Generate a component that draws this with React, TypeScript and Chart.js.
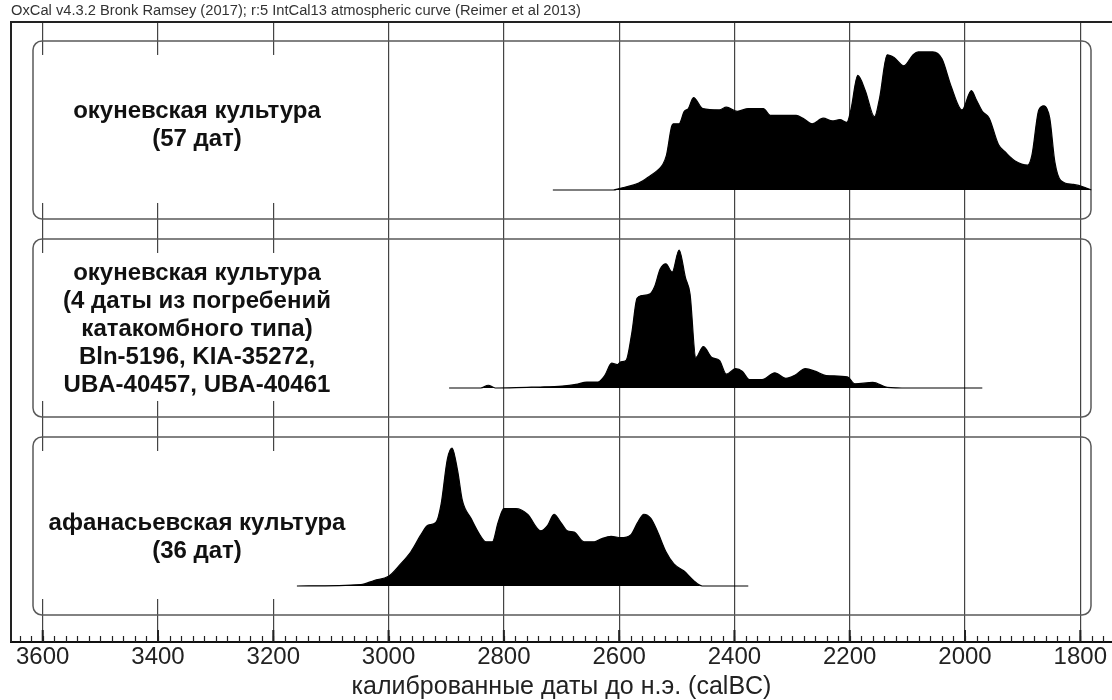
import React, { useEffect, useRef } from "react";
import { Chart, registerables } from "chart.js";

Chart.register(...registerables);

const FONT = '"Liberation Sans", Arial, Helvetica, sans-serif';

const TITLE = "OxCal v4.3.2 Bronk Ramsey (2017); r:5 IntCal13 atmospheric curve (Reimer et al 2013)";
const AXIS_TITLE = "калиброванные даты до н.э. (calBC)";
const TICK_YEARS = [3600, 3400, 3200, 3000, 2800, 2600, 2400, 2200, 2000, 1800];
const X_MIN = 1745;
const X_MAX = 3655;

const LABELS_1 = ["окуневская культура", "(57 дат)"];
const LABELS_2 = [
  "окуневская культура",
  "(4 даты из погребений",
  "катакомбного типа)",
  "Bln-5196, KIA-35272,",
  "UBA-40457, UBA-40461",
];
const LABELS_3 = ["афанасьевская культура", "(36 дат)"];

// Panel 1: окуневская культура (57 дат) — relative probability density
const YEARS_1 = [2715, 2610, 2600, 2566, 2547, 2534, 2525, 2518, 2509, 2506, 2496, 2487, 2480, 2471, 2455, 2426, 2414, 2395, 2376, 2350, 2337, 2293, 2281, 2265, 2246, 2230, 2217, 2205, 2198, 2186, 2173, 2157, 2148, 2135, 2123, 2106, 2090, 2081, 2056, 2040, 2024, 2005, 1989, 1980, 1970, 1958, 1942, 1929, 1913, 1891, 1884, 1872, 1863, 1853, 1844, 1834, 1812, 1793, 1781];
const DENS_1 = [0, 0, 0.01, 0.05, 0.1, 0.14, 0.18, 0.25, 0.46, 0.48, 0.48, 0.57, 0.59, 0.67, 0.59, 0.58, 0.6, 0.57, 0.59, 0.59, 0.54, 0.54, 0.52, 0.48, 0.52, 0.5, 0.51, 0.49, 0.58, 0.83, 0.72, 0.53, 0.67, 0.98, 0.96, 0.9, 0.98, 1.0, 1.0, 0.95, 0.75, 0.58, 0.72, 0.65, 0.57, 0.52, 0.33, 0.27, 0.21, 0.18, 0.25, 0.58, 0.61, 0.52, 0.2, 0.07, 0.04, 0.02, 0];

// Panel 2: окуневская культура (4 даты из погребений катакомбного типа)
const YEARS_2 = [2895, 2840, 2827, 2815, 2760, 2737, 2699, 2675, 2656, 2637, 2625, 2613, 2603, 2597, 2588, 2578, 2569, 2560, 2547, 2538, 2529, 2519, 2508, 2496, 2485, 2477, 2467, 2454, 2439, 2426, 2414, 2398, 2386, 2374, 2352, 2330, 2311, 2296, 2277, 2259, 2241, 2204, 2191, 2160, 2135, 2100, 1970];
const DENS_2 = [0, 0, 0.02, 0, 0.005, 0.007, 0.014, 0.026, 0.043, 0.043, 0.09, 0.18, 0.17, 0.19, 0.2, 0.4, 0.65, 0.67, 0.68, 0.74, 0.86, 0.9, 0.84, 1.0, 0.8, 0.68, 0.22, 0.3, 0.22, 0.2, 0.1, 0.14, 0.12, 0.06, 0.06, 0.11, 0.07, 0.09, 0.14, 0.12, 0.09, 0.08, 0.03, 0.04, 0.005, 0, 0];

// Panel 3: афанасьевская культура (36 дат)
const YEARS_3 = [3159, 3048, 3025, 3000, 2979, 2961, 2944, 2932, 2918, 2909, 2898, 2890, 2880, 2872, 2857, 2843, 2831, 2820, 2810, 2800, 2779, 2759, 2736, 2724, 2713, 2701, 2690, 2678, 2661, 2643, 2632, 2614, 2597, 2580, 2568, 2557, 2545, 2534, 2519, 2505, 2488, 2471, 2456, 2376];
const DENS_3 = [0, 0.01, 0.04, 0.07, 0.16, 0.25, 0.37, 0.44, 0.46, 0.59, 0.92, 1.0, 0.83, 0.62, 0.49, 0.38, 0.32, 0.32, 0.46, 0.56, 0.56, 0.52, 0.4, 0.44, 0.52, 0.46, 0.4, 0.39, 0.32, 0.32, 0.34, 0.36, 0.35, 0.37, 0.46, 0.52, 0.49, 0.4, 0.25, 0.16, 0.11, 0.04, 0, 0];

// layout (y-axis units = panel coordinate system)
const Y_MAX = 620;
const BOX_TOP0 = 601;
const PITCH = 198;
const BOX_H = 178;
const BASE_OFFSET = 149;
const DENS_SCALE = 138;
const LABEL_CENTER = [84.5, 90.5, 100];

const PANELS = [
  { years: YEARS_1, dens: DENS_1, labels: LABELS_1 },
  { years: YEARS_2, dens: DENS_2, labels: LABELS_2 },
  { years: YEARS_3, dens: DENS_3, labels: LABELS_3 },
];

const boxTop = (k: number) => BOX_TOP0 - PITCH * k;
const baseOf = (k: number) => boxTop(k) - BASE_OFFSET;

const decor = {
  id: "oxcalDecor",
  beforeDatasetsDraw(chart: any) {
    const { ctx, chartArea, scales } = chart;
    const y = scales.y;
    ctx.save();
    PANELS.forEach((_, k) => {
      const top = y.getPixelForValue(boxTop(k));
      const bot = y.getPixelForValue(boxTop(k) - BOX_H);
      const left = chartArea.left + 22;
      const right = chartArea.left + 1080;
      ctx.fillStyle = "#fff";
      ctx.fillRect(left + 1, top + 14, 364 - left, bot - top - 30);
      ctx.beginPath();
      ctx.roundRect(left, top, right - left, bot - top, 9);
      ctx.strokeStyle = "#5a5a5a";
      ctx.lineWidth = 1.5;
      ctx.stroke();
    });
    ctx.restore();
  },
  afterDatasetsDraw(chart: any) {
    const { ctx, scales } = chart;
    const y = scales.y;
    ctx.save();
    ctx.fillStyle = "#111";
    ctx.font = `bold 24px ${FONT}`;
    ctx.textAlign = "center";
    ctx.textBaseline = "middle";
    PANELS.forEach((p, k) => {
      const top = y.getPixelForValue(boxTop(k));
      const cy = top + LABEL_CENTER[k];
      const n = p.labels.length;
      p.labels.forEach((t, i) => {
        ctx.fillText(t, 197, cy + (i - (n - 1) / 2) * 28);
      });
    });
    ctx.restore();
  },
  afterDraw(chart: any) {
    const { ctx, chartArea, scales } = chart;
    const x = scales.x;
    ctx.save();
    ctx.strokeStyle = "#222";
    // minor ticks every 20 years, inward
    ctx.lineWidth = 1.2;
    for (let v = 3640; v >= 1760; v -= 20) {
      const px = Math.round(x.getPixelForValue(v)) + 0.5;
      ctx.beginPath();
      ctx.moveTo(px, chartArea.bottom);
      ctx.lineTo(px, chartArea.bottom - 6);
      ctx.stroke();
    }
    ctx.lineWidth = 2;
    TICK_YEARS.forEach((v) => {
      const px = x.getPixelForValue(v);
      ctx.beginPath();
      ctx.moveTo(px, chartArea.bottom);
      ctx.lineTo(px, chartArea.bottom - 12);
      ctx.stroke();
    });
    // frame
    ctx.lineWidth = 2;
    ctx.beginPath();
    ctx.moveTo(chartArea.left, chartArea.bottom);
    ctx.lineTo(chartArea.left, chartArea.top);
    ctx.lineTo(chartArea.right + 2, chartArea.top);
    ctx.stroke();
    ctx.restore();
  },
};

export default function App() {
  const ref = useRef<HTMLCanvasElement | null>(null);
  useEffect(() => {
    if (!ref.current) return;
    const datasets = PANELS.map((p, k) => ({
      data: p.years.map((yr, i) => ({ x: yr, y: baseOf(k) + p.dens[i] * DENS_SCALE })),
      borderColor: "#000",
      backgroundColor: "#000",
      borderWidth: 1.2,
      pointRadius: 0,
      cubicInterpolationMode: "monotone" as const,
      fill: { value: baseOf(k) },
    }));
    const chart = new Chart(ref.current, {
      type: "line",
      data: { datasets },
      options: {
        animation: false,
        responsive: false,
        maintainAspectRatio: false,
        layout: { padding: { left: 11, right: 0, top: 0, bottom: 0 } },
        plugins: {
          legend: { display: false },
          tooltip: { enabled: false },
          title: {
            display: true,
            text: TITLE,
            align: "start",
            color: "#333",
            font: { family: FONT, size: 14.7, weight: "normal", lineHeight: 1.1 },
            padding: { top: 3, bottom: 2.8 },
          },
        },
        scales: {
          x: {
            type: "linear",
            min: X_MIN,
            max: X_MAX,
            reverse: true,
            afterBuildTicks: (s: any) => {
              s.ticks = TICK_YEARS.map((v) => ({ value: v }));
            },
            afterFit: (s: any) => {
              s.height = 58;
            },
            grid: { color: "#444", lineWidth: 1.2, drawTicks: false },
            border: { display: true, color: "#111", width: 2 },
            ticks: {
              padding: 2,
              color: "#222",
              maxRotation: 0,
              autoSkip: false,
              font: { family: FONT, size: 24, lineHeight: 1.1 },
              callback: (v: any) => String(v),
            },
            title: {
              display: true,
              text: AXIS_TITLE,
              color: "#222",
              font: { family: FONT, size: 25, lineHeight: 1 },
              padding: { top: 0, bottom: 0 },
            },
          },
          y: { type: "linear", display: false, min: 0, max: Y_MAX },
        },
      },
      plugins: [decor],
    });
    return () => chart.destroy();
  }, []);
  return (
    <div style={{ position: "fixed", left: 0, top: 0, width: 1112, height: 700, background: "#fff" }}>
      <canvas ref={ref} width={1112} height={700} style={{ display: "block" }} />
    </div>
  );
}
